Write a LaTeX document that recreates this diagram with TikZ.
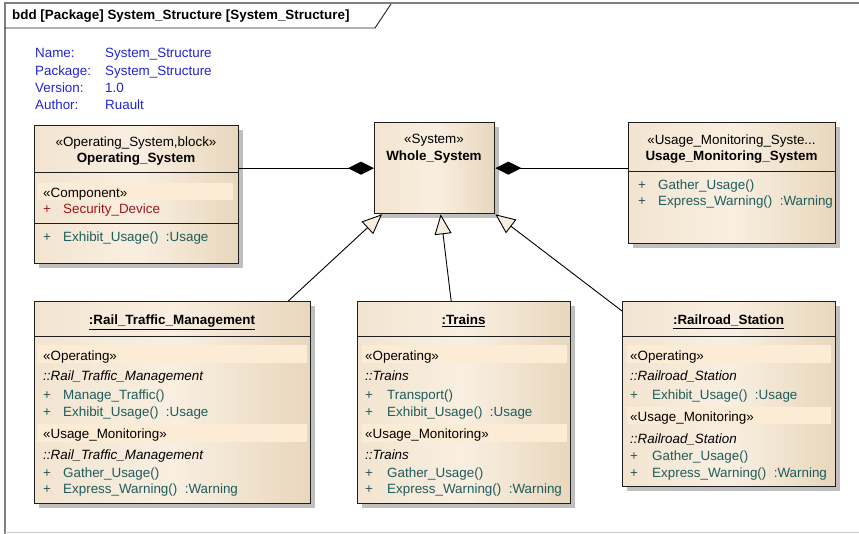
\documentclass[tikz,border=0pt]{standalone}
\usepackage{fontspec}
\setmainfont{Liberation Sans}
\usetikzlibrary{arrows.meta,calc,shadows}

\definecolor{infoblue}{HTML}{2424CC}
\definecolor{opteal}{HTML}{1F5C5C}
\definecolor{attrred}{HTML}{A01818}
\definecolor{framegray}{HTML}{808080}
\definecolor{creamL}{HTML}{F2E4D0}
\definecolor{creamM}{HTML}{F9EFE1}
\definecolor{creamR}{HTML}{E8D7BD}
\definecolor{bandfill}{HTML}{FCECD6}
\definecolor{edgeblack}{HTML}{1E1E1E}

\newcommand\umlfont{\fontsize{13.4}{16}\selectfont}

\tikzset{
  blockbox/.style={draw=edgeblack, line width=1.3pt, anchor=north west,
    inner sep=0pt, shade, left color=creamL, right color=creamR, middle color=creamM,
    drop shadow={shadow xshift=4pt, shadow yshift=-4pt, fill=black!25, opacity=1}},
  divider/.style={draw=edgeblack, line width=1pt},
  band/.style={fill=bandfill},
  txt/.style={inner sep=0pt, anchor=base west, font=\umlfont},
  ctxt/.style={inner sep=0pt, anchor=base, font=\umlfont},
  btxt/.style={ctxt, font=\umlfont\bfseries},
  info/.style={txt, text=infoblue},
  opn/.style={txt, text=opteal},
  attr/.style={txt, text=attrred},
  nsp/.style={txt, font=\umlfont\itshape},
  comp/.style={draw=black, line width=0.9pt, -{Diamond[length=26pt, width=13pt, fill=black]}},
  gen/.style={draw=black, line width=0.9pt, -{Triangle[length=20pt, width=17pt, fill=creamM]}},
}

\begin{document}
\begin{tikzpicture}[x=1pt, y=-1pt]
\useasboundingbox (0,0) rectangle (859,534);

% diagram frame with its name tab
\draw[framegray, line width=1.8pt] (5,534) -- (5,3) -- (859,3);
\draw[black!20, line width=0.8pt] (5,532.5) -- (859,532.5);
\draw[edgeblack, line width=0.9pt] (5,28) -- (375,28) -- (391,4);
\node[txt, font=\umlfont\bfseries] (title) at (12,20) {bdd [Package] System\_Structure [System\_Structure]};

% diagram properties
\node[info] (k1) at (35,57.5) {Name:};
\node[info] (v1) at (105,57.5) {System\_Structure};
\node[info] (k2) at (35,75.5) {Package:};
\node[info] (v2) at (105,75.5) {System\_Structure};
\node[info] (k3) at (35,92.5) {Version:};
\node[info] (v3) at (105,92.5) {1.0};
\node[info] (k4) at (35,109.5) {Author:};
\node[info] (v4) at (105,109.5) {Ruault};

% Operating_System
\node[blockbox, minimum width=204pt, minimum height=138pt] (os) at (34,125) {};
\draw[divider] (34,173) -- (238,173);
\fill[band] (37,183) rectangle (233,200);
\draw[divider] (34,224) -- (238,224);
\node[ctxt] (os-st) at (136,147) {«Operating\_System,block»};
\node[btxt] (os-nm) at (136,163) {Operating\_System};
\node[txt] (os-c) at (43,198) {«Component»};
\node[attr] (os-a1) at (43,214) {+};
\node[attr] (os-a2) at (63,214) {Security\_Device};
\node[opn] (os-o1) at (43,242) {+};
\node[opn] (os-o2) at (63,242) {Exhibit\_Usage()\ \ :Usage};

% Whole_System
\node[blockbox, minimum width=120pt, minimum height=91pt] (ws) at (374,122) {};
\node[ctxt] (ws-st) at (434,144) {«System»};
\node[btxt] (ws-nm) at (434,161) {Whole\_System};

% Usage_Monitoring_System
\node[blockbox, minimum width=207pt, minimum height=121pt] (ums) at (628,122) {};
\draw[divider] (628,172) -- (835,172);
\node[ctxt] (ums-st) at (731.5,145) {«Usage\_Monitoring\_Syste...};
\node[btxt] (ums-nm) at (731.5,161) {Usage\_Monitoring\_System};
\node[opn] (ums-p1) at (638,190) {+};
\node[opn] (ums-o1) at (658,190) {Gather\_Usage()};
\node[opn] (ums-p2) at (638,206) {+};
\node[opn] (ums-o2) at (658,206) {Express\_Warning()\ \ :Warning};

% :Rail_Traffic_Management
\node[blockbox, minimum width=276pt, minimum height=202pt] (rtm) at (34,301) {};
\draw[divider] (34,337) -- (310,337);
\fill[band] (37,345) rectangle (307,363);
\fill[band] (37,424) rectangle (307,442);
\node[btxt] (rtm-nm) at (172,325) {\underline{:Rail\_Traffic\_Management}};
\node[txt] (rtm-s1) at (43,360) {«Operating»};
\node[nsp] (rtm-n1) at (43,381) {::Rail\_Traffic\_Management};
\node[opn] (rtm-p1) at (43,399) {+};
\node[opn] (rtm-o1) at (63,399) {Manage\_Traffic()};
\node[opn] (rtm-p2) at (43,416) {+};
\node[opn] (rtm-o2) at (63,416) {Exhibit\_Usage()\ \ :Usage};
\node[txt] (rtm-s2) at (43,438) {«Usage\_Monitoring»};
\node[nsp] (rtm-n2) at (43,459) {::Rail\_Traffic\_Management};
\node[opn] (rtm-p3) at (43,477) {+};
\node[opn] (rtm-o3) at (63,477) {Gather\_Usage()};
\node[opn] (rtm-p4) at (43,493) {+};
\node[opn] (rtm-o4) at (63,493) {Express\_Warning()\ \ :Warning};

% :Trains
\node[blockbox, minimum width=213pt, minimum height=202pt] (tr) at (357,301) {};
\draw[divider] (357,337) -- (570,337);
\fill[band] (362,345) rectangle (567,363);
\fill[band] (362,424) rectangle (567,442);
\node[btxt] (tr-nm) at (463.5,325) {\underline{:Trains}};
\node[txt] (tr-s1) at (365,360) {«Operating»};
\node[nsp] (tr-n1) at (365,381) {::Trains};
\node[opn] (tr-p1) at (365,399) {+};
\node[opn] (tr-o1) at (387,399) {Transport()};
\node[opn] (tr-p2) at (365,416) {+};
\node[opn] (tr-o2) at (387,416) {Exhibit\_Usage()\ \ :Usage};
\node[txt] (tr-s2) at (365,438) {«Usage\_Monitoring»};
\node[nsp] (tr-n2) at (365,459) {::Trains};
\node[opn] (tr-p3) at (365,477) {+};
\node[opn] (tr-o3) at (387,477) {Gather\_Usage()};
\node[opn] (tr-p4) at (365,493) {+};
\node[opn] (tr-o4) at (387,493) {Express\_Warning()\ \ :Warning};

% :Railroad_Station
\node[blockbox, minimum width=213pt, minimum height=185pt] (rs) at (622,301) {};
\draw[divider] (622,337) -- (835,337);
\fill[band] (627,345) rectangle (831,363);
\fill[band] (627,407) rectangle (831,424);
\node[btxt] (rs-nm) at (728.5,325) {\underline{:Railroad\_Station}};
\node[txt] (rs-s1) at (630,360) {«Operating»};
\node[nsp] (rs-n1) at (630,381) {::Railroad\_Station};
\node[opn] (rs-p1) at (630,399) {+};
\node[opn] (rs-o1) at (652,399) {Exhibit\_Usage()\ \ :Usage};
\node[txt] (rs-s2) at (630,421) {«Usage\_Monitoring»};
\node[nsp] (rs-n2) at (630,443) {::Railroad\_Station};
\node[opn] (rs-p2) at (630,460) {+};
\node[opn] (rs-o2) at (652,460) {Gather\_Usage()};
\node[opn] (rs-p3) at (630,477) {+};
\node[opn] (rs-o3) at (652,477) {Express\_Warning()\ \ :Warning};

% composition
\draw[comp] (os.east |- ws.west) -- (ws.west);
\draw[comp] (ums.west |- ws.east) -- (ws.east);

% generalisation
\draw[gen] ($(rtm.north east)+(-23,0)$) -- ($(ws.south west)+(8,0)$);
\draw[gen] ($(tr.north)+(-13,0)$) -- ($(ws.south)+(6,0)$);
\draw[gen] ($(rs.north west)+(0,10)$) -- (ws.south east);
\end{tikzpicture}
\end{document}
